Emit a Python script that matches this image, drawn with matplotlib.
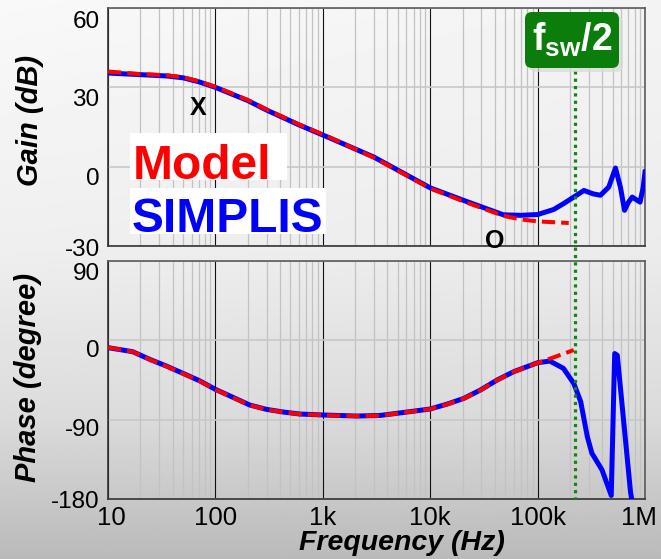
import matplotlib
matplotlib.use("Agg")
import matplotlib.pyplot as plt
import numpy as np
from matplotlib.patches import FancyBboxPatch, Rectangle
from matplotlib.lines import Line2D
from matplotlib.transforms import IdentityTransform, ScaledTranslation, blended_transform_factory

plt.rcParams['font.family'] = ['Liberation Sans', 'DejaVu Sans']
plt.rcParams['axes.unicode_minus'] = False
plt.rcParams['mathtext.fontset'] = 'custom'
plt.rcParams['mathtext.bf'] = 'Liberation Sans:bold'
plt.rcParams['mathtext.rm'] = 'Liberation Sans'

# gain, SIMPLIS (blue)
f_gain_sim = [10, 20, 35, 50, 70, 100, 200, 300, 600, 1170, 3000, 10000, 20000, 48000, 69000,
              100000, 141000, 174000, 217000, 270000, 330000, 385000, 460000, 531000, 590000,
              645000, 700000, 760000, 830000, 900000, 960000, 1000000]
gain_sim = [35.4, 34.8, 34.3, 33.6, 32.1, 30.0, 25.0, 21.4, 15.8, 10.8, 3.6, -8.0, -12.6, -18.2, -18.4,
            -18.1, -16.2, -14.0, -11.5, -9.0, -10.3, -10.8, -7.7, -0.5, -7.7,
            -16.5, -13.5, -11.5, -12.5, -13.4, -8.0, -2.0]

# gain, model (red)
f_gain_mod = [10, 20, 35, 50, 70, 100, 200, 300, 600, 1170, 3000, 10000, 20000, 48000, 69000,
              100000, 141000, 195000]
gain_mod = [36.0, 35.0, 34.6, 33.8, 32.3, 30.2, 25.2, 21.6, 16.0, 11.0, 3.4, -8.2, -13.0, -18.6, -19.9,
            -20.7, -21.0, -21.3]

# phase, SIMPLIS (blue)
f_ph_sim = [10, 17, 24.5, 35, 50, 71, 100, 146, 209, 299, 427, 611, 1000, 2080, 3430, 4900,
            10000, 14400, 20600, 29300, 42000, 59800, 100000, 130000, 174000, 217000, 252000,
            290000, 320000, 398000, 485000, 522000, 552000, 733000, 800000]
ph_sim = [-8.3, -12.9, -21.6, -29.2, -37.5, -45.8, -55.6, -64.7, -73.4, -78.3, -81.3, -83.6, -84.7, -85.9, -85.2, -82.8,
          -77.9, -72.3, -65.8, -56.4, -45.0, -35.6, -25.4, -23.5, -31.8, -48.8, -69.6,
          -109.0, -128.0, -147.0, -176.0, -15.0, -17.0, -172.0, -200.0]

# phase, model (red)
f_ph_mod = [10, 17, 24.5, 35, 50, 71, 100, 146, 209, 299, 427, 611, 1000, 2080, 3430, 4900,
            10000, 14400, 20600, 29300, 42000, 59800, 69000, 100000, 141000, 217000]
ph_mod = [-8.0, -13.0, -21.8, -29.5, -37.8, -46.0, -55.8, -65.0, -73.6, -78.5, -81.5, -83.8, -84.9, -86.0, -85.4, -83.0,
          -78.0, -72.5, -66.0, -56.6, -45.2, -35.8, -33.0, -25.6, -19.3, -11.0]

f_sw_half = 225000
xticks = [10, 100, 1000, 10000, 100000, 1000000]
xticklabels = ['10', '100', '1k', '10k', '100k', '1M']
gain_ticks = [60, 30, 0, -30]
phase_ticks = [90, 0, -90, -180]

W, H = 661, 559
fig = plt.figure(figsize=(W / 100, H / 100), dpi=100)

# grey gradient background
bg = fig.add_axes([0, 0, 1, 1], zorder=-10)
yy = np.linspace(0, 1, 300)[:, None]
xx = np.linspace(0, 1, 200)[None, :]
shade = np.interp(yy, [0, 0.45, 0.75, 1.0], [0.975, 0.935, 0.86, 0.73]) - 0.02 * xx * (1 - yy)
bg.imshow(shade, cmap='gray', vmin=0, vmax=1, aspect='auto', extent=[0, 1, 0, 1], origin='upper')
bg.axis('off')


def px(x0, y0, x1, y1):
    return [x0 / W, 1 - y1 / H, (x1 - x0) / W, (y1 - y0) / H]


ax1 = fig.add_axes(px(108, 8, 645, 246))
ax2 = fig.add_axes(px(108, 261, 645, 499))

ax1.plot(f_gain_sim, gain_sim, color='#0000ff', lw=3.6, solid_joinstyle='round', zorder=3)
ax1.plot(f_gain_mod, gain_mod, color='#ff0000', lw=2.9, dashes=(3.3, 1.5), zorder=4)
ax2.plot(f_ph_sim, ph_sim, color='#0000ff', lw=3.6, solid_joinstyle='round', zorder=3)
ax2.plot(f_ph_mod, ph_mod, color='#ff0000', lw=2.9, dashes=(3.3, 1.5), zorder=4)

# tick labels sit a bit below their grid lines in the original (pixels)
label_drop = {id(ax1): [12, 10, 10, 2], id(ax2): [11, 8, 8, 0]}

for ax, ticks in ((ax1, gain_ticks), (ax2, phase_ticks)):
    ax.set_facecolor('none')
    ax.set_xscale('log')
    ax.set_xlim(10, 1e6)
    ax.set_ylim(min(ticks), max(ticks))
    ax.set_yticks(ticks)
    ax.set_xticks(xticks)
    ax.grid(True, which='minor', axis='x', color='#c2c2c2', lw=0.9)
    ax.grid(True, which='major', axis='x', color='#111111', lw=0.8)
    ax.grid(True, which='major', axis='y', color='#c8c8c8', lw=1.2)
    ax.tick_params(which='both', length=0)
    ax.tick_params(axis='y', labelsize=17.5, pad=6)
    for s in ('left', 'bottom'):
        ax.spines[s].set_color('#333333')
    for s in ('top', 'right'):
        ax.spines[s].set_color('#5a5a5a')
    for s in ax.spines.values():
        s.set_linewidth(1.2)
    for lab, d in zip(ax.get_yticklabels(), label_drop[id(ax)]):
        lab.set_transform(lab.get_transform() + ScaledTranslation(0, -d / 100, fig.dpi_scale_trans))

ax1.set_xticklabels([])
ax2.set_xticklabels(xticklabels, fontsize=18.5)
ax2.tick_params(axis='x', pad=5)
xlabs = ax2.get_xticklabels()
xlabs[0].set_transform(xlabs[0].get_transform() + ScaledTranslation(0.03, 0, fig.dpi_scale_trans))
xlabs[-1].set_transform(xlabs[-1].get_transform() + ScaledTranslation(-0.06, 0, fig.dpi_scale_trans))

# axis titles
lab_font = dict(fontsize=21, fontweight='bold', fontstyle='italic')
fig.text(30 / W, 1 - 120 / H, 'Gain (dB)', rotation=90, ha='center', va='center', **lab_font)
fig.text(28 / W, 1 - 377 / H, 'Phase (degree)', rotation=90, ha='center', va='center', **lab_font)
fig.text(402 / W, 1 - 543.5 / H, 'Frequency (Hz)', ha='center', va='center',
         **dict(lab_font, fontsize=20.5))

# markers X / O
fig.text(198 / W, 1 - 108 / H, 'X', fontsize=18, fontweight='bold', ha='center', va='center')
fig.text(495 / W, 1 - 241 / H, 'O', fontsize=18, fontweight='bold', ha='center', va='center')

# legend as coloured words on white boxes
fig.add_artist(Rectangle((130, H - 180), 157, 47, transform=IdentityTransform(),
                         facecolor='white', edgecolor='none', zorder=5))
fig.add_artist(Rectangle((130, H - 234), 196, 46, transform=IdentityTransform(),
                         facecolor='white', edgecolor='none', zorder=5))
fig.text(133 / W, 1 - 179 / H, 'Model', color='#ff0000', fontsize=34.5, fontweight='bold',
         ha='left', va='baseline', zorder=6)
fig.text(132 / W, 1 - 232 / H, 'SIMPLIS', color='#0000ff', fontsize=34.5, fontweight='bold',
         ha='left', va='baseline', zorder=6)

# fsw/2 marker line through both plots
tr = blended_transform_factory(ax1.transData, fig.transFigure)
fig.add_artist(Line2D([f_sw_half, f_sw_half], [1 - 12 / H, 1 - 499 / H], transform=tr,
                      color='#0b8a0b', lw=2.3, dashes=(1, 1.3), zorder=7))

fig.add_artist(FancyBboxPatch((529, H - 72), 94, 56, boxstyle='round,pad=0,rounding_size=7',
                              transform=IdentityTransform(), facecolor='#d9d9d9', edgecolor='none',
                              alpha=0.7, zorder=8))
fig.add_artist(FancyBboxPatch((525, H - 68), 94, 56, boxstyle='round,pad=0,rounding_size=7',
                              transform=IdentityTransform(), facecolor='#0a7d0a', edgecolor='none',
                              zorder=9))
fig.text(572 / W, 1 - 40 / H, r'$\mathbf{f}_{\mathbf{sw}}\mathbf{/2}$', color='white', fontsize=27,
         ha='center', va='center', zorder=10)

fig.savefig('out.png', dpi=100)
